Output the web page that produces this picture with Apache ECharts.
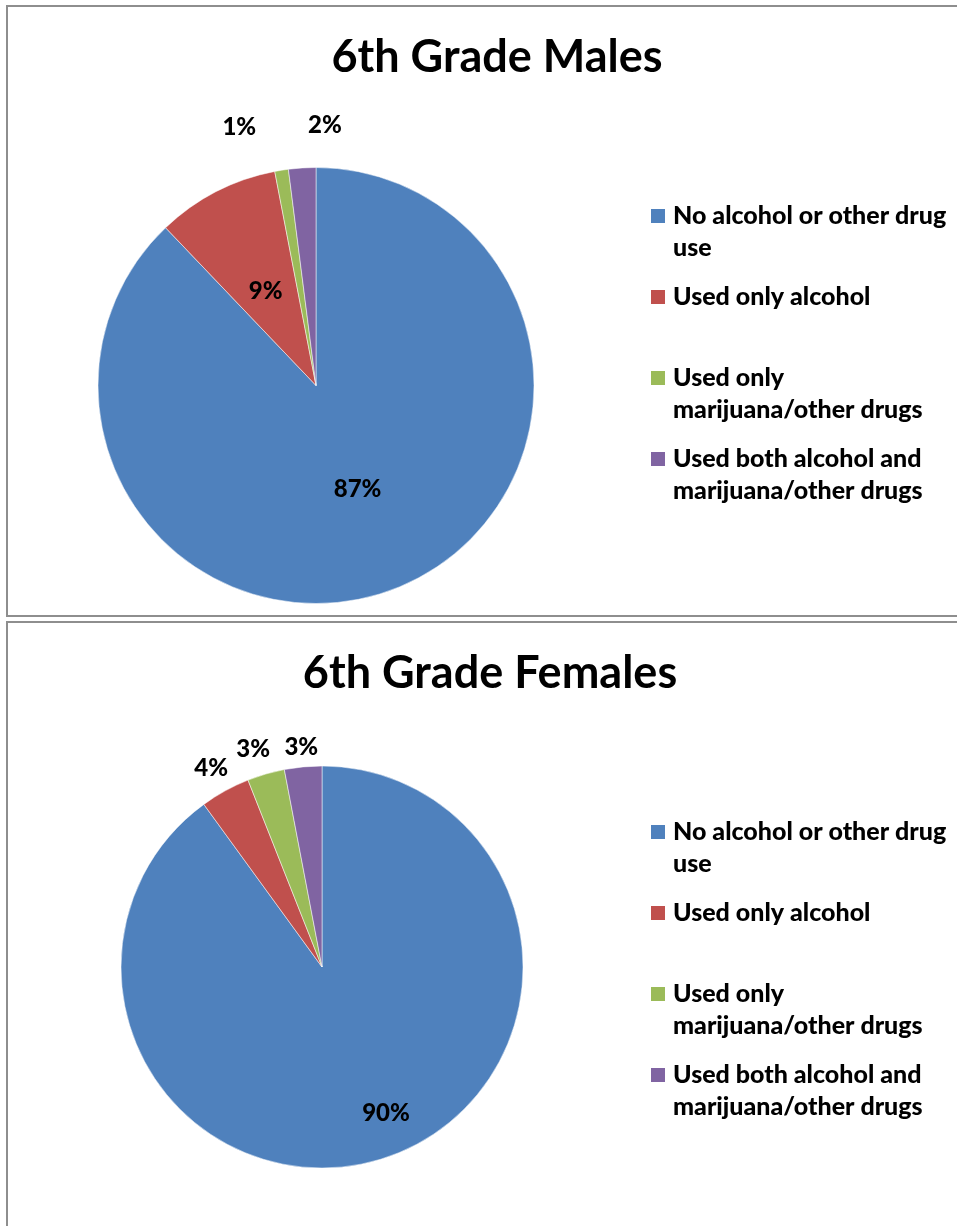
<!DOCTYPE html>
<html>
<head>
<meta charset="utf-8">
<title>6th Grade alcohol and drug use</title>
<script src="https://cdn.jsdelivr.net/npm/echarts@6/dist/echarts.min.js"></script>
<style>
  html, body { margin: 0; padding: 0; background: #fff; overflow: hidden; }
  .panel { position: absolute; border: 2px solid #8e8e8e; box-sizing: border-box; }
  #panelTop { left: 6px; top: 5px; width: 1000px; height: 612px; }
  #panelBottom { left: 6px; top: 621px; width: 1000px; height: 700px; }
  #chart { position: absolute; left: 0; top: 0; width: 957px; height: 1226px; }
</style>
</head>
<body>
<div class="panel" id="panelTop"></div>
<div class="panel" id="panelBottom"></div>
<div id="chart"></div>
<script>
var categories = [
  'No alcohol or other drug use',
  'Used only alcohol',
  'Used only marijuana/other drugs',
  'Used both alcohol and marijuana/other drugs'
]
var malesPct = [87, 9, 1, 2]
var femalesPct = [90, 4, 3, 3]

var colors = ['#4F81BD', '#C0504D', '#9BBB59', '#8064A2']
var font = 'Lato, "Open Sans", sans-serif'

// legend line breaks as in the original; the empty first line
// keeps the square level with the first line of text
var legendWrap = {
  'No alcohol or other drug use': '\nNo alcohol or other drug\nuse',
  'Used only alcohol': '\nUsed only alcohol\n',
  'Used only marijuana/other drugs': '\nUsed only\nmarijuana/other drugs',
  'Used both alcohol and marijuana/other drugs': '\nUsed both alcohol and\nmarijuana/other drugs'
}

function pieSeries (name, values, center, radius, shifts) {
  return {
    name: name,
    type: 'pie',
    center: center,
    radius: radius,
    startAngle: 90,
    clockwise: true,
    avoidLabelOverlap: false,
    emphasis: {disabled: true},
    itemStyle: {borderColor: '#fff', borderWidth: 0.5},
    label: {
      show: true,
      position: 'inside',
      formatter: '{c}%',
      color: '#000',
      fontFamily: font,
      fontWeight: 900,
      fontSize: 24
    },
    labelLine: {show: false},
    /* Excel "best fit" moves the small labels outside the pie */
    labelLayout: function (p) {
      return {dx: shifts[p.dataIndex][0], dy: shifts[p.dataIndex][1]}
    },
    data: categories.map(function (c, i) {
      return {name: c, value: values[i], itemStyle: {color: colors[i]}}
    })
  }
}

function legendAt (top) {
  return {
    orient: 'vertical',
    left: 651,
    top: top,
    padding: 0,
    itemWidth: 14,
    itemHeight: 14,
    itemGap: -15,
    icon: 'rect',
    selectedMode: false,
    itemStyle: {borderWidth: 0},
    data: categories,
    formatter: function (n) { return legendWrap[n] },
    textStyle: {
      fontFamily: font,
      fontWeight: 900,
      fontSize: 25,
      lineHeight: 32,
      color: '#000',
      padding: [0, 0, 0, 3]
    }
  }
}

var titleStyle = {fontFamily: font, fontWeight: 'bold', fontSize: 45, color: '#000'}

var chart = echarts.init(document.getElementById('chart'))
chart.setOption({
  animation: false,
  backgroundColor: 'transparent',
  title: [
    {text: '6th Grade Males', left: 497, top: 35, textAlign: 'center', padding: 0, textStyle: titleStyle},
    {text: '6th Grade Females', left: 490, top: 651, textAlign: 'center', padding: 0, textStyle: titleStyle}
  ],
  legend: [legendAt(168), legendAt(784)],
  series: [
    pieSeries('6th Grade Males', malesPct, [316, 385.5], 218,
      [[0, 0], [1, 5], [-59, -148], [16, -148]]),
    pieSeries('6th Grade Females', femalesPct, [322, 967], 201,
      [[32, 48], [-61, -108], [-40, -118], [-11, -117]])
  ]
})
</script>
</body>
</html>
